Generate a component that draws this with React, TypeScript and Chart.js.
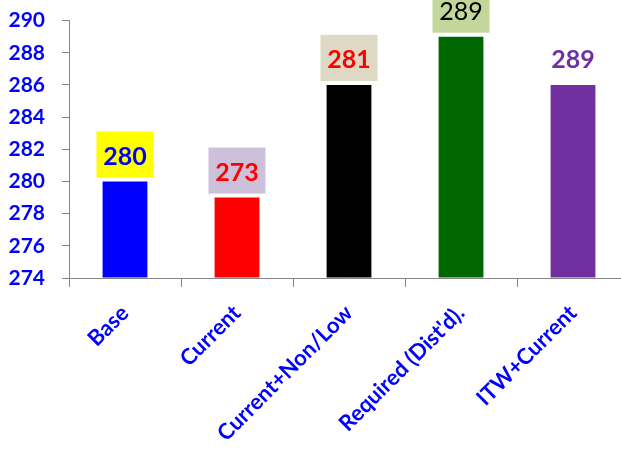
import React, { useEffect, useRef } from "react";
import { Chart, registerables } from "chart.js";

Chart.register(...registerables);

const categories = ["Base", "Current", "Current+Non/Low", "Required (Dist'd).", "ITW+Current"];
const values = [280, 279, 286, 289, 286];
const labelTexts = ["280", "273", "281", "289", "289"];
const barColors = ["#0000FF", "#FF0000", "#000000", "#006600", "#7030A0"];
const labelColors = ["#0000FF", "#FF0000", "#FF0000", "#000000", "#7030A0"];
const labelBoxColors = ["#FFFF00", "#CCC0DA", "#DDD9C4", "#C4D79B", ""];
const labelBold = [true, true, true, false, true];
const yMin = 274;
const yMax = 290;
const yStep = 2;

const FONT = "Lato, 'Open Sans', sans-serif";

const boxLabelPlugin = {
  id: "boxLabels",
  afterDatasetsDraw(chart: any) {
    const ctx = chart.ctx;
    const meta = chart.getDatasetMeta(0);
    meta.data.forEach((bar: any, i: number) => {
      const w = 57;
      const h = 46;
      const bottom = bar.y - 4;
      const top = bottom - h;
      const left = bar.x - w / 2;
      ctx.save();
      if (labelBoxColors[i]) {
        ctx.fillStyle = labelBoxColors[i];
        ctx.fillRect(left, top, w, h);
      }
      ctx.fillStyle = labelColors[i];
      ctx.font = `${labelBold[i] ? "bold " : ""}25px ${FONT}`;
      ctx.textAlign = "center";
      ctx.textBaseline = "middle";
      ctx.fillText(labelTexts[i], bar.x, top + h / 2 + 2);
      ctx.restore();
    });
  },
};

export default function App() {
  const ref = useRef<HTMLCanvasElement | null>(null);
  useEffect(() => {
    if (!ref.current) return;
    const chart = new Chart(ref.current, {
      type: "bar",
      data: {
        labels: categories,
        datasets: [
          {
            data: values,
            backgroundColor: barColors,
            borderWidth: 0,
            barPercentage: 0.4,
            categoryPercentage: 1,
            base: yMin,
          } as any,
        ],
      },
      options: {
        responsive: false,
        animation: false,
        devicePixelRatio: 1,
        layout: { padding: { top: 0, left: 0, right: 0, bottom: 0 } },
        plugins: { legend: { display: false }, tooltip: { enabled: false } },
        scales: {
          x: {
            offset: true,
            grid: { offset: true, drawOnChartArea: false, tickLength: 9, color: "#868686" },
            border: { color: "#868686" },
            ticks: {
              minRotation: 45,
              maxRotation: 45,
              padding: 13,
              color: "#0000FF",
              font: { family: FONT, weight: "bold", size: 22 },
            },
            afterFit: (s: any) => {
              s.height = 178;
            },
          },
          y: {
            min: yMin,
            max: yMax,
            grid: { drawOnChartArea: false, tickLength: 7, color: "#868686" },
            border: { color: "#868686" },
            ticks: {
              stepSize: yStep,
              padding: 17,
              color: "#0000FF",
              font: { family: FONT, weight: "bold", size: 21 },
            },
            afterFit: (s: any) => {
              s.width = 69;
            },
          },
        },
      },
      plugins: [boxLabelPlugin],
    });
    return () => chart.destroy();
  }, []);
  return (
    <div style={{ position: "fixed", left: 0, top: 0, width: 621, height: 456, overflow: "hidden", background: "#fff" }}>
      <canvas
        ref={ref}
        width={629}
        height={465}
        style={{ width: 629, height: 465, display: "block", marginTop: -9 }}
      />
    </div>
  );
}
